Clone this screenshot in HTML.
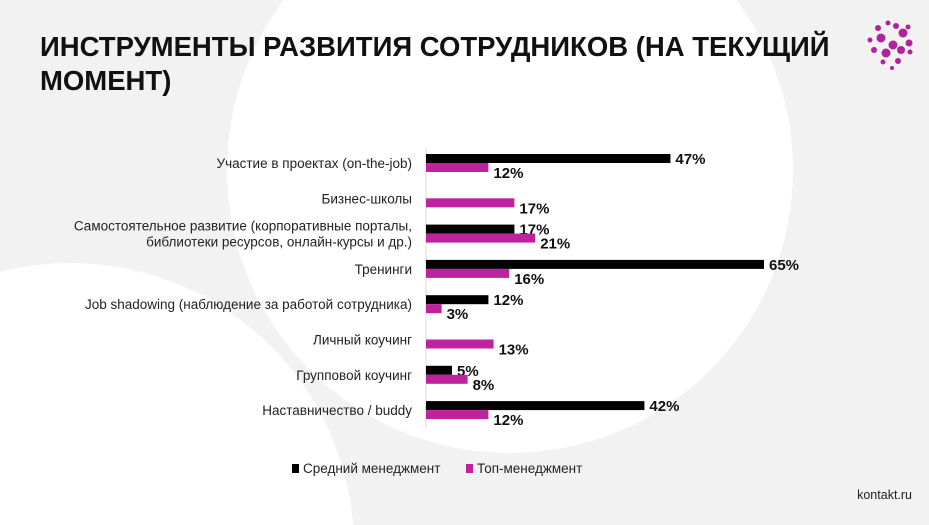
<!DOCTYPE html>
<html><head><meta charset="utf-8"><style>
body{margin:0;width:929px;height:525px;overflow:hidden;background:#f2f2f2;font-family:"Liberation Sans","DejaVu Sans",sans-serif;position:relative}
</style></head><body>
<svg width="929" height="525" style="position:absolute;left:0;top:0;overflow:hidden">
<circle cx="510" cy="170" r="283" fill="#fff"/>
<circle cx="70" cy="547" r="284" fill="#fff"/>
<text x="40" y="56" font-size="27.5" font-weight="bold" fill="#111">ИНСТРУМЕНТЫ РАЗВИТИЯ СОТРУДНИКОВ (НА ТЕКУЩИЙ</text>
<text x="40" y="90" font-size="27.5" font-weight="bold" fill="#111">МОМЕНТ)</text>
<g id="logo"></g>
<g id="plot"></g>
<rect x="292" y="464" width="7" height="9" fill="#000"/>
<text x="303" y="473" font-size="13.5" fill="#222">Средний менеджмент</text>
<rect x="466" y="464" width="7" height="9" fill="#c0229f"/>
<text x="477" y="473" font-size="13.5" fill="#222">Топ-менеджмент</text>
<text x="912" y="499" font-size="12.5" fill="#222" text-anchor="end">kontakt.ru</text>
</svg>
<script>
const categories=[["Участие в проектах (on-the-job)"],["Бизнес-школы"],["Самостоятельное развитие (корпоративные порталы,","библиотеки ресурсов, онлайн-курсы и др.)"],["Тренинги"],["Job shadowing (наблюдение за работой сотрудника)"],["Личный коучинг"],["Групповой коучинг"],["Наставничество / buddy"]];
const middleValues=[47,null,17,65,12,null,5,42];
const topValues=[12,17,21,16,3,13,8,12];
const NS="http://www.w3.org/2000/svg";
const x0=426,scale=5.2,y0=163,pitch=35.3,bh=9;
const xs=v=>x0+v*scale;
const yc=i=>y0+i*pitch;
const g=document.getElementById('plot');
function mk(t,a){const e=document.createElementNS(NS,t);for(const k in a)e.setAttribute(k,a[k]);g.appendChild(e);return e;}
const ax=mk('line',{x1:x0,x2:x0,y1:148,y2:428,stroke:'#d9d9d9','stroke-width':1});


categories.forEach((lines,i)=>{
  lines.forEach((s,j)=>{
    const t=mk('text',{x:412,y:yc(i)+5+(j-(lines.length-1)/2)*16,'font-size':13.5,'text-anchor':'end',fill:'#222'});
    t.textContent=s;
    
    
  });
  const m=middleValues[i];
  if(m!=null){
    const r=mk('rect',{x:x0,y:yc(i)-bh,width:xs(m)-x0,height:bh,fill:'#000'});
    
    
    const t=mk('text',{x:xs(m)+5,y:yc(i)+1,'font-size':15,'font-weight':'bold',fill:'#111'});
    t.textContent=m+'%';
    
    
  }
  const v=topValues[i];
  const r=mk('rect',{x:x0,y:yc(i),width:xs(v)-x0,height:bh,fill:'#c0229f'});
  
  
  const t=mk('text',{x:xs(v)+5,y:yc(i)+15,'font-size':15,'font-weight':'bold',fill:'#111'});
  t.textContent=v+'%';
  
  
});
const lg=document.getElementById('logo');
[[893,45,4.5],[881,38,4.5],[903,33,4.5],[886,53,4.5],[901,50,4],[874,50,3],[909,43,3.5],[878,28,3],[896,26,3],[908,27,2.5],[870,40,2.5],[910,52,2.5],[883,62,2.5],[898,61,3],[888,23,2.5],[892,68,2]].forEach(c=>{
  const e=document.createElementNS(NS,'circle');
  e.setAttribute('cx',c[0]);e.setAttribute('cy',c[1]);e.setAttribute('r',c[2]);e.setAttribute('fill','#b0229a');
  
  
  lg.appendChild(e);
});
</script>
</body></html>
